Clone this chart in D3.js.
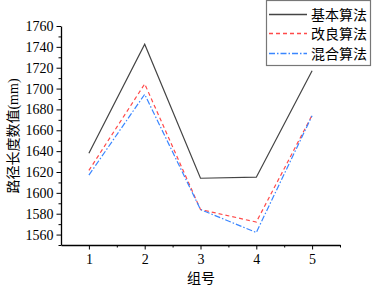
<!DOCTYPE html>
<html><head><meta charset="utf-8">
<script src="https://cdn.jsdelivr.net/npm/d3@7"></script>
<style>body{margin:0;background:#fff}</style>
</head><body>
<svg id="c" width="377" height="288"></svg>
<script>
const groups = [1, 2, 3, 4, 5];
const seriesNames = ["基本算法", "改良算法", "混合算法"];
const basic = [1638, 1742.5, 1614, 1615, 1717];
const improved = [1621.5, 1704.5, 1584, 1572, 1674.5];
const mixed = [1617, 1694.5, 1584, 1562, 1674];
const yTicks = [1560, 1580, 1600, 1620, 1640, 1660, 1680, 1700, 1720, 1740, 1760];
const xTicks = [1, 2, 3, 4, 5];

const svg = d3.select("#c");
const x = d3.scaleLinear().domain([0.5, 5.5]).range([61, 340]);
const y = d3.scaleLinear().domain([1550, 1760]).range([245, 26]);
const serif = "'Liberation Serif','Noto Sans CJK SC',serif";

// axes
const yMinor = d3.range(1550, 1761, 10).filter(v => v % 20 !== 0);
svg.append("g").attr("transform", "translate(61,0)")
  .call(d3.axisLeft(y).tickValues(yMinor).tickSize(2.5).tickFormat(""))
  .call(g => g.select(".domain").remove())
  .call(g => g.selectAll("line").attr("stroke", "#000"));
const yAx = svg.append("g").attr("transform", "translate(61,0)")
  .call(d3.axisLeft(y).tickValues(yTicks).tickSize(4.5).tickSizeOuter(0).tickPadding(3).tickFormat(d3.format("d")));
yAx.select(".domain").attr("stroke", "#000").attr("stroke-width", 1.3);
yAx.selectAll("text").attr("font-family", serif).attr("font-size", 14).attr("fill", "#000");

const xMinor = [1.5, 2.5, 3.5, 4.5, 5.5];
svg.append("g").attr("transform", "translate(0,245)")
  .call(d3.axisBottom(x).tickValues(xMinor).tickSize(2.5).tickFormat(""))
  .call(g => g.select(".domain").remove());
const xAx = svg.append("g").attr("transform", "translate(0,245)")
  .call(d3.axisBottom(x).tickValues(xTicks).tickSize(4.5).tickSizeOuter(0).tickPadding(5).tickFormat(d3.format("d")));
xAx.select(".domain").attr("stroke", "#000").attr("stroke-width", 1.3);
xAx.selectAll("text").attr("font-family", serif).attr("font-size", 14).attr("fill", "#000");

// labels
svg.append("text").attr("x", 201).attr("y", 283).attr("text-anchor", "middle")
  .attr("font-family", serif).attr("font-size", 14).text("组号");
svg.append("text").attr("transform", "translate(18,136) rotate(-90)").attr("text-anchor", "middle")
  .attr("font-family", serif).attr("font-size", 14).text("路径长度数值(mm)");

// lines
const styles = [
  {data: basic, color: "#444", dash: null},
  {data: improved, color: "#ff4a4a", dash: "4,3"},
  {data: mixed, color: "#3a86ff", dash: "6,2,1.5,2"}
];
const line = d3.line().x((d, i) => x(groups[i])).y(d => y(d));
styles.forEach(s => {
  svg.append("path").attr("d", line(s.data)).attr("fill", "none")
    .attr("stroke", s.color).attr("stroke-width", 1.2)
    .attr("stroke-dasharray", s.dash);
});

// legend
const lg = svg.append("g");
lg.append("rect").attr("x", 266.5).attr("y", 0.5).attr("width", 104).attr("height", 65)
  .attr("fill", "#fff").attr("stroke", "#777").attr("stroke-width", 1.2);
const rowY = [14.5, 33.5, 53.5];
styles.forEach((s, i) => {
  const yy = rowY[i];
  lg.append("line").attr("x1", 269).attr("x2", 307).attr("y1", yy).attr("y2", yy)
    .attr("stroke", s.color).attr("stroke-width", 1.3).attr("stroke-dasharray", s.dash);
  lg.append("text").attr("x", 311).attr("y", yy + 5).attr("font-family", serif)
    .attr("font-size", 14).text(seriesNames[i]);
});
</script>
</body></html>
